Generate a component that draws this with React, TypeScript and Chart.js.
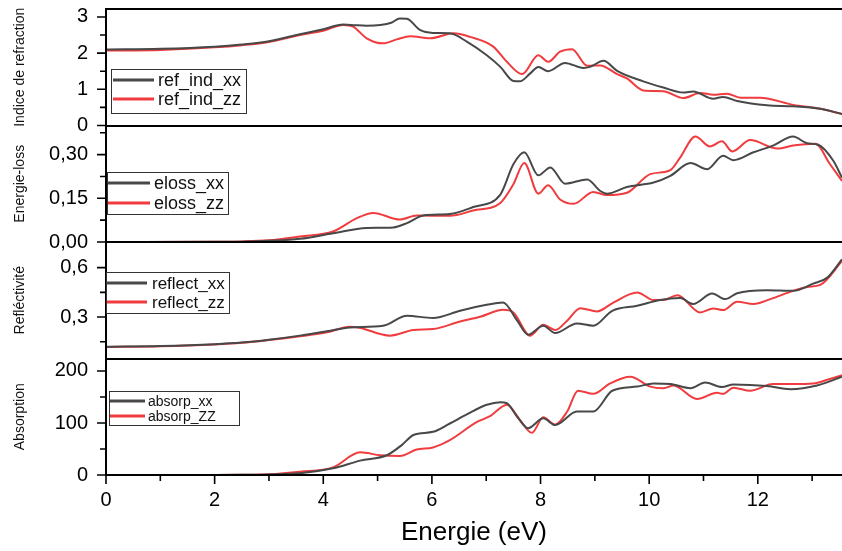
import React, { useEffect, useRef } from 'react';
import { Chart, registerables } from 'chart.js';

Chart.register(...registerables);

// ---------- DATA ----------
const E_REF_XX = [0, 1, 2, 2.5, 3, 3.57, 4.0, 4.37, 4.6, 4.8, 5.05, 5.25, 5.41, 5.54, 5.78, 6.02, 6.33, 6.65, 7.01, 7.26, 7.5, 7.62, 7.81, 7.96, 8.14, 8.45, 8.79, 8.91, 9.16, 9.41, 9.89, 10.26, 10.63, 10.81, 11.18, 11.36, 11.62, 12.17, 12.65, 13.15, 13.55];
const REF_XX = [2.10, 2.12, 2.18, 2.24, 2.33, 2.52, 2.66, 2.79, 2.77, 2.76, 2.78, 2.84, 2.96, 2.95, 2.64, 2.56, 2.55, 2.31, 1.94, 1.62, 1.23, 1.22, 1.44, 1.62, 1.50, 1.73, 1.59, 1.62, 1.79, 1.51, 1.22, 1.05, 0.91, 0.94, 0.74, 0.79, 0.68, 0.56, 0.53, 0.46, 0.32];

const E_REF_ZZ = [0, 1, 2, 2.5, 3, 3.57, 4.0, 4.37, 4.55, 4.8, 5.1, 5.35, 5.6, 5.97, 6.4, 6.7, 7.13, 7.38, 7.66, 7.96, 8.14, 8.36, 8.58, 8.86, 9.1, 9.41, 9.59, 9.89, 10.26, 10.63, 10.94, 11.18, 11.43, 11.68, 12.04, 12.65, 13.15, 13.55];
const REF_ZZ = [2.07, 2.09, 2.16, 2.22, 2.31, 2.50, 2.62, 2.78, 2.73, 2.41, 2.27, 2.38, 2.47, 2.41, 2.55, 2.45, 2.18, 1.76, 1.42, 1.94, 1.76, 2.04, 2.11, 1.65, 1.66, 1.42, 1.30, 0.97, 0.95, 0.76, 0.90, 0.85, 0.88, 0.77, 0.77, 0.57, 0.46, 0.32];

const E_ELOSS_XX = [0, 2, 2.5, 3, 3.57, 4.18, 4.8, 5.29, 5.54, 5.84, 6.33, 6.76, 7.26, 7.5, 7.7, 7.96, 8.18, 8.45, 8.86, 9.1, 9.22, 9.59, 10.08, 10.39, 10.76, 11.07, 11.36, 11.55, 11.92, 12.28, 12.65, 12.91, 13.11, 13.39, 13.55];
const ELOSS_XX = [0, 0.0005, 0.001, 0.004, 0.011, 0.030, 0.048, 0.050, 0.065, 0.091, 0.096, 0.12, 0.163, 0.267, 0.308, 0.229, 0.256, 0.20, 0.215, 0.175, 0.166, 0.189, 0.204, 0.227, 0.271, 0.25, 0.296, 0.281, 0.308, 0.331, 0.362, 0.339, 0.334, 0.279, 0.221];

const E_ELOSS_ZZ = [0, 2, 2.5, 3, 3.57, 4.18, 4.62, 4.92, 5.41, 5.72, 6.33, 6.76, 7.26, 7.5, 7.7, 7.96, 8.14, 8.36, 8.61, 8.97, 9.22, 9.59, 10.02, 10.39, 10.57, 10.85, 11.12, 11.34, 11.53, 11.86, 12.36, 12.65, 13.06, 13.33, 13.55];
const ELOSS_ZZ = [0, 0.001, 0.002, 0.006, 0.019, 0.036, 0.082, 0.10, 0.077, 0.091, 0.090, 0.108, 0.134, 0.198, 0.271, 0.166, 0.195, 0.146, 0.131, 0.172, 0.161, 0.169, 0.233, 0.247, 0.29, 0.362, 0.328, 0.346, 0.311, 0.35, 0.321, 0.331, 0.337, 0.267, 0.21];

const E_REFL_XX = [0, 1, 2, 2.5, 3, 3.57, 4.07, 4.49, 5.1, 5.54, 6.02, 6.52, 7.01, 7.31, 7.57, 7.77, 8.05, 8.27, 8.67, 8.97, 9.32, 9.78, 10.2, 10.57, 10.81, 11.16, 11.4, 11.62, 12.17, 12.65, 13.02, 13.28, 13.55];
const REFL_XX = [0.120, 0.124, 0.135, 0.145, 0.162, 0.187, 0.213, 0.237, 0.247, 0.308, 0.294, 0.338, 0.374, 0.388, 0.278, 0.193, 0.247, 0.203, 0.261, 0.247, 0.338, 0.368, 0.403, 0.415, 0.379, 0.443, 0.409, 0.445, 0.463, 0.459, 0.503, 0.54, 0.651];

const E_REFL_ZZ = [0, 1, 2, 2.5, 3, 3.57, 4.07, 4.49, 4.64, 5.23, 5.66, 6.02, 6.52, 6.89, 7.31, 7.5, 7.81, 8.05, 8.27, 8.49, 8.73, 9.04, 9.34, 9.78, 10.08, 10.26, 10.52, 10.94, 11.18, 11.36, 11.62, 11.92, 12.23, 12.65, 12.91, 13.15, 13.55];
const REFL_ZZ = [0.118, 0.122, 0.133, 0.143, 0.160, 0.183, 0.207, 0.241, 0.237, 0.187, 0.221, 0.227, 0.273, 0.302, 0.344, 0.328, 0.187, 0.253, 0.221, 0.278, 0.354, 0.334, 0.388, 0.449, 0.403, 0.403, 0.433, 0.328, 0.352, 0.342, 0.393, 0.379, 0.409, 0.459, 0.483, 0.495, 0.64];

const E_ABS_XX = [0, 2, 2.5, 3, 3.57, 4.18, 4.68, 5.17, 5.45, 5.66, 6.02, 6.33, 6.65, 7.01, 7.26, 7.38, 7.57, 7.77, 8.05, 8.27, 8.67, 8.97, 9.32, 9.78, 10.08, 10.39, 10.76, 11.03, 11.34, 11.55, 12.17, 12.6, 13.09, 13.55];
const ABS_XX = [0, 0.1, 0.3, 1, 3.2, 12.8, 27.6, 38, 58, 77, 83, 99, 117, 135, 140, 138, 112, 90, 109, 96, 122, 122, 162, 170, 176, 175, 167, 178, 169, 174, 171, 165, 172, 189];

const E_ABS_ZZ = [0, 2, 2.5, 3, 3.57, 4.18, 4.68, 5.05, 5.41, 5.72, 6.02, 6.33, 6.83, 7.07, 7.38, 7.62, 7.84, 8.05, 8.27, 8.49, 8.69, 8.97, 9.28, 9.65, 10.02, 10.26, 10.45, 10.88, 11.25, 11.36, 11.55, 11.86, 12.28, 12.65, 13.02, 13.28, 13.55];
const ABS_ZZ = [0, 0.2, 0.5, 1.5, 6.4, 14.7, 43.6, 38, 36.5, 49, 53, 67, 102, 113, 135, 106, 81, 111, 97, 122, 162, 156, 176, 189, 170, 167, 172, 146, 158, 156, 168, 162, 175, 175, 176, 183, 192];

const SERIES_LABELS = ['ref_ind_xx', 'ref_ind_zz', 'eloss_xx', 'eloss_zz', 'reflect_xx', 'reflect_zz', 'absorp_xx', 'absorp_ZZ'];
const AXIS_TITLES = ['Indice de refraction', 'Energie-loss', 'Refléctivité', 'Absorption'];
const X_TITLE = 'Energie (eV)';

const X_TICKS = [0, 2, 4, 6, 8, 10, 12];
const X_MINOR = [1, 3, 5, 7, 9, 11, 13];
const Y1_TICKS = [0, 1, 2, 3];
const Y1_MINOR = [0.5, 1.5, 2.5];
const Y2_TICKS = [0, 0.15, 0.3];
const Y2_MINOR = [0.075, 0.225, 0.375];
const Y3_TICKS = [0.3, 0.6];
const Y3_MINOR = [0.15, 0.45];
const Y4_TICKS = [0, 100, 200];
const Y4_MINOR = [50, 150];

// ---------- STYLE ----------
const FONT = "'Liberation Sans', Arial, sans-serif";
const DARK = '#484848';
const RED = '#f03c3e';

const LEGENDS = [
  { x: 111, y: 69, w: 135, h: 44, l1: 113, l2: 154, tx: 158, rows: [80, 99], size: 18, ds: [0, 1] },
  { x: 107, y: 172, w: 121, h: 42, l1: 108, l2: 150, tx: 154, rows: [183, 203], size: 18, ds: [2, 3] },
  { x: 106, y: 272, w: 123, h: 41, l1: 107, l2: 147, tx: 152, rows: [283, 302], size: 17, ds: [4, 5] },
  { x: 109, y: 391, w: 130, h: 34, l1: 110, l2: 145, tx: 148, rows: [401, 416], size: 14, ds: [6, 7] },
];

const pts = (xs: number[], ys: number[]) => xs.map((x, i) => ({ x, y: ys[i] }));

const comma = (d: number) => (v: any) => Number(v).toFixed(d).replace('.', ',');

function yScale(min: number, max: number, ticks: number[], fmt: (v: any) => string, title: string, weight: number) {
  return {
    type: 'linear',
    position: 'left',
    stack: 'panels',
    stackWeight: 1,
    weight,
    min,
    max,
    afterBuildTicks: (s: any) => {
      s.ticks = ticks.map((v) => ({ value: v }));
    },
    afterFit: (s: any) => {
      s.width = 106;
      s.paddingTop = 0;
      s.paddingBottom = 0;
    },
    grid: { display: false, drawTicks: false },
    border: { display: false },
    ticks: { padding: 18, color: '#000', autoSkip: false, font: { size: 20, family: FONT }, callback: fmt },
    title: { display: true, text: title, color: '#111', font: { size: 14, family: FONT }, padding: { top: 12, bottom: 0 } },
  };
}

const framePlugin = {
  id: 'frame',
  afterDraw(chart: any) {
    const ctx = chart.ctx;
    const area = chart.chartArea;
    const xs = chart.scales.x;
    const ids = ['y1', 'y2', 'y3', 'y4'];
    const majors = [Y1_TICKS, Y2_TICKS, Y3_TICKS, Y4_TICKS];
    const minors = [Y1_MINOR, Y2_MINOR, Y3_MINOR, Y4_MINOR];
    ctx.save();
    ctx.strokeStyle = '#000';
    ctx.lineWidth = 2;
    ctx.beginPath();
    ids.forEach((id) => {
      const s = chart.scales[id];
      const y = Math.round(s.top);
      ctx.moveTo(area.left - 1, y);
      ctx.lineTo(area.right, y);
    });
    ctx.moveTo(area.left - 1, Math.round(area.bottom));
    ctx.lineTo(area.right, Math.round(area.bottom));
    ctx.moveTo(area.left, area.top - 1);
    ctx.lineTo(area.left, area.bottom + 1);
    ctx.stroke();

    ctx.lineWidth = 1.6;
    ctx.beginPath();
    ids.forEach((id, i) => {
      const s = chart.scales[id];
      majors[i].forEach((v) => {
        const y = s.getPixelForValue(v);
        ctx.moveTo(area.left - 9, y);
        ctx.lineTo(area.left, y);
      });
      minors[i].forEach((v) => {
        const y = s.getPixelForValue(v);
        ctx.moveTo(area.left - 6, y);
        ctx.lineTo(area.left, y);
      });
    });
    X_TICKS.forEach((v) => {
      const x = xs.getPixelForValue(v);
      ctx.moveTo(x, area.bottom);
      ctx.lineTo(x, area.bottom + 9);
    });
    X_MINOR.forEach((v) => {
      const x = xs.getPixelForValue(v);
      ctx.moveTo(x, area.bottom);
      ctx.lineTo(x, area.bottom + 6);
    });
    ctx.stroke();

    // legends
    LEGENDS.forEach((lg) => {
      ctx.fillStyle = '#fff';
      ctx.fillRect(lg.x, lg.y, lg.w, lg.h);
      ctx.strokeStyle = '#333';
      ctx.lineWidth = 1;
      ctx.strokeRect(lg.x + 0.5, lg.y + 0.5, lg.w, lg.h);
      lg.ds.forEach((di, r) => {
        const ds = chart.data.datasets[di];
        const y = lg.rows[r];
        ctx.strokeStyle = ds.borderColor;
        ctx.lineWidth = 3;
        ctx.beginPath();
        ctx.moveTo(lg.l1, y);
        ctx.lineTo(lg.l2, y);
        ctx.stroke();
        ctx.fillStyle = '#111';
        ctx.font = `${lg.size}px ${FONT}`;
        ctx.textBaseline = 'middle';
        ctx.textAlign = 'left';
        ctx.fillText(ds.label, lg.tx, y + 1);
      });
    });
    ctx.restore();
  },
};

export default function App() {
  const ref = useRef<HTMLCanvasElement | null>(null);

  useEffect(() => {
    if (!ref.current) return;
    const mk = (i: number, xs: number[], ys: number[], yid: string, color: string) => ({
      label: SERIES_LABELS[i],
      data: pts(xs, ys),
      yAxisID: yid,
      borderColor: color,
      backgroundColor: color,
      borderWidth: 2,
      pointRadius: 0,
      fill: false,
      cubicInterpolationMode: 'monotone',
    });
    const chart = new Chart(ref.current, {
      type: 'line',
      data: {
        datasets: [
          mk(0, E_REF_XX, REF_XX, 'y1', DARK),
          mk(1, E_REF_ZZ, REF_ZZ, 'y1', RED),
          mk(2, E_ELOSS_XX, ELOSS_XX, 'y2', DARK),
          mk(3, E_ELOSS_ZZ, ELOSS_ZZ, 'y2', RED),
          mk(4, E_REFL_XX, REFL_XX, 'y3', DARK),
          mk(5, E_REFL_ZZ, REFL_ZZ, 'y3', RED),
          mk(6, E_ABS_XX, ABS_XX, 'y4', DARK),
          mk(7, E_ABS_ZZ, ABS_ZZ, 'y4', RED),
        ] as any,
      },
      options: {
        responsive: false,
        animation: false,
        devicePixelRatio: 1,
        layout: { padding: { top: 9, left: 0, right: 0, bottom: 0 } },
        plugins: { legend: { display: false }, tooltip: { enabled: false } },
        scales: {
          x: {
            type: 'linear',
            position: 'bottom',
            min: 0,
            max: 13.55,
            afterBuildTicks: (s: any) => {
              s.ticks = X_TICKS.map((v) => ({ value: v }));
            },
            afterFit: (s: any) => {
              s.height = 76;
              s.paddingLeft = 0;
              s.paddingRight = 0;
            },
            grid: { display: false, drawTicks: false },
            border: { display: false },
            ticks: { padding: 13, color: '#000', autoSkip: false, maxRotation: 0, font: { size: 20, family: FONT }, callback: (v: any) => String(v) },
            title: { display: true, text: X_TITLE, color: '#000', font: { size: 26, family: FONT }, padding: { top: 0, bottom: 3 } },
          },
          y1: yScale(0, 3.22, Y1_TICKS, (v: any) => String(v), AXIS_TITLES[0], 4),
          y2: yScale(0, 0.4, Y2_TICKS, comma(2), AXIS_TITLES[1], 3),
          y3: yScale(0.048, 0.756, Y3_TICKS, comma(1), AXIS_TITLES[2], 2),
          y4: yScale(0, 224, Y4_TICKS, (v: any) => String(v), AXIS_TITLES[3], 1),
        } as any,
      },
      plugins: [framePlugin],
    });
    return () => chart.destroy();
  }, []);

  return (
    <div style={{ position: 'absolute', left: 0, top: 0, width: 842, height: 551, background: '#fff' }}>
      <canvas ref={ref} width={842} height={551} style={{ display: 'block', width: 842, height: 551 }} />
    </div>
  );
}
